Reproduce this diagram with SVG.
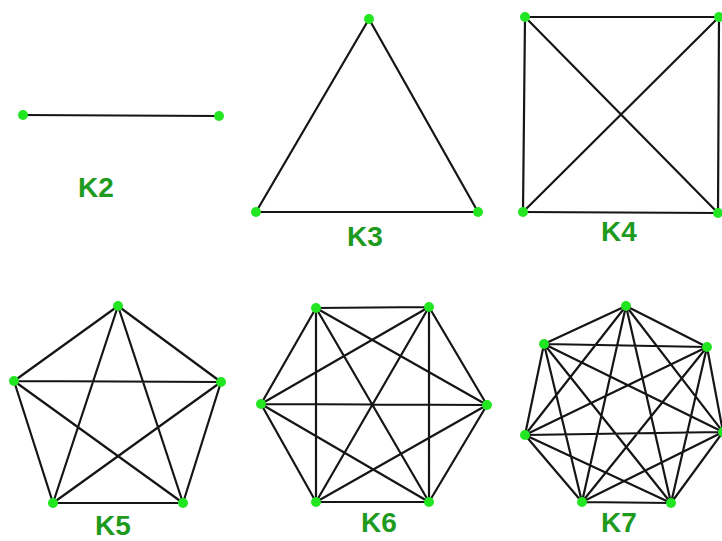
<svg xmlns="http://www.w3.org/2000/svg" width="722" height="541" viewBox="0 0 722 541">
<style>
.e{stroke:#151515;stroke-width:2.2;fill:none;stroke-linecap:round}
.v{fill:#22e622}
.l{fill:#1e9a1e;font-family:"Liberation Sans",Arial,sans-serif;font-size:28px;font-weight:bold;text-anchor:middle}
</style>
<rect width="722" height="541" fill="#fff"/>
<g id="connectors">
<g id="k2-edges"><line class="e" x1="23" y1="115" x2="219" y2="116"/></g>
<g id="k3-edges">
<line class="e" x1="369" y1="19" x2="256" y2="212"/>
<line class="e" x1="369" y1="19" x2="478" y2="212"/>
<line class="e" x1="256" y1="212" x2="478" y2="212"/>
</g>
<g id="k4-edges" style="stroke-width:2.8">
<line class="e" x1="525" y1="17" x2="719" y2="17"/>
<line class="e" x1="525" y1="17" x2="523" y2="212"/>
<line class="e" x1="525" y1="17" x2="718" y2="213"/>
<line class="e" x1="719" y1="17" x2="523" y2="212"/>
<line class="e" x1="719" y1="17" x2="718" y2="213"/>
<line class="e" x1="523" y1="212" x2="718" y2="213"/>
</g>
<g id="k5-edges">
<path class="e" d="M118 306L14 381M118 306L221 382M118 306L53 503M118 306L183 503M14 381L221 382M14 381L53 503M14 381L183 503M221 382L53 503M221 382L183 503M53 503L183 503"/>
</g>
<g id="k6-edges">
<path class="e" d="M316 308L429 307M316 308L261 404M316 308L487 405M316 308L316 502M316 308L429 502M429 307L261 404M429 307L487 405M429 307L316 502M429 307L429 502M261 404L487 405M261 404L316 502M261 404L429 502M487 405L316 502M487 405L429 502M316 502L429 502"/>
</g>
<g id="k7-edges">
<path class="e" d="M626 306L544 344M626 306L707 347M626 306L525 435M626 306L723 432M626 306L582 502M626 306L671 503M544 344L707 347M544 344L525 435M544 344L723 432M544 344L582 502M544 344L671 503M707 347L525 435M707 347L723 432M707 347L582 502M707 347L671 503M525 435L723 432M525 435L582 502M525 435L671 503M723 432L582 502M723 432L671 503M582 502L671 503"/>
</g>
</g>
<g id="K2"><circle class="v" cx="23" cy="115" r="5"/><circle class="v" cx="219" cy="116" r="5"/><text class="l" x="96" y="197">K2</text></g>
<g id="K3"><circle class="v" cx="369" cy="19" r="5"/><circle class="v" cx="256" cy="212" r="5"/><circle class="v" cx="478" cy="212" r="5"/><text class="l" x="365" y="246">K3</text></g>
<g id="K4"><circle class="v" cx="525" cy="17" r="5"/><circle class="v" cx="719" cy="17" r="5"/><circle class="v" cx="523" cy="212" r="5"/><circle class="v" cx="718" cy="213" r="5"/><text class="l" x="619" y="241">K4</text></g>
<g id="K5"><circle class="v" cx="118" cy="306" r="5"/><circle class="v" cx="14" cy="381" r="5"/><circle class="v" cx="221" cy="382" r="5"/><circle class="v" cx="53" cy="503" r="5"/><circle class="v" cx="183" cy="503" r="5"/><text class="l" x="113" y="535">K5</text></g>
<g id="K6"><circle class="v" cx="316" cy="308" r="5"/><circle class="v" cx="429" cy="307" r="5"/><circle class="v" cx="261" cy="404" r="5"/><circle class="v" cx="487" cy="405" r="5"/><circle class="v" cx="316" cy="502" r="5"/><circle class="v" cx="429" cy="502" r="5"/><text class="l" x="379" y="532">K6</text></g>
<g id="K7"><circle class="v" cx="626" cy="306" r="5"/><circle class="v" cx="544" cy="344" r="5"/><circle class="v" cx="707" cy="347" r="5"/><circle class="v" cx="525" cy="435" r="5"/><circle class="v" cx="723" cy="432" r="5"/><circle class="v" cx="582" cy="502" r="5"/><circle class="v" cx="671" cy="503" r="5"/><text class="l" x="619" y="532">K7</text></g>
</svg>
